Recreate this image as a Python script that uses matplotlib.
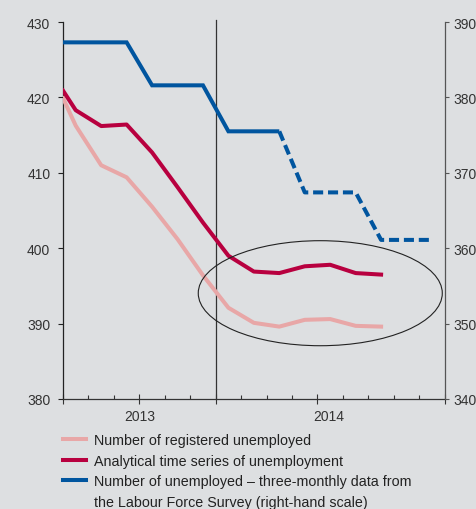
import matplotlib
matplotlib.use("Agg")
import matplotlib.pyplot as plt
from matplotlib.lines import Line2D
from matplotlib.patches import Ellipse
from matplotlib.ticker import FixedLocator, NullFormatter
import matplotlib.transforms as mtransforms

plt.rcParams['font.family'] = ['Liberation Sans', 'DejaVu Sans']

# Month axis: 0 = start of July 2013, 15 = end of September 2014
months = list(range(16))
year_labels = ["2013", "2014"]
year_label_pos = [3, 10.45]
year_ticks = [0, 3, 6, 10, 15]
year_break = 6

# Monthly observations sit mid-month; the first value is the left edge of the axis
monthly_x = [0] + [i + 0.5 for i in range(13)]
registered = [419.9, 416.25, 411.0, 409.4, 405.5, 401.2, 396.4, 392.1,
              390.1, 389.6, 390.5, 390.6, 389.7, 389.6]
analytical = [420.9, 418.3, 416.2, 416.4, 412.7, 408.1, 403.4, 399.0,
              396.9, 396.7, 397.6, 397.8, 396.7, 396.5]

# Labour Force Survey, thousands (right-hand scale)
lfs_x = [0] + [i + 0.5 for i in range(15)]
lfs = [387.3, 387.3, 387.3, 387.3, 381.6, 381.6, 381.6, 375.5, 375.5, 375.5,
       367.4, 367.4, 367.4, 361.1, 361.1, 361.1]
lfs_solid_n = 10   # points published as final; the rest dashed

left_ticks = [380, 390, 400, 410, 420, 430]
right_ticks = [340, 350, 360, 370, 380, 390]

labels = ["Number of registered unemployed",
          "Analytical time series of unemployment",
          "Number of unemployed \u2013 three-monthly data from",
          "the Labour Force Survey (right-hand scale)"]

bg = "#dddfe1"
c_pink = "#e8a7a7"
c_red = "#b8003f"
c_blue = "#00559f"
txt = "#333333"

fig = plt.figure(figsize=(4.77, 5.10), dpi=100, facecolor=bg)
ax = fig.add_axes([0.1321, 0.2157, 0.8002, 0.7392])
ax.set_facecolor(bg)
ax2 = ax.twinx()

ax.set_xlim(0, 15)
ax.set_ylim(380, 430)
ax2.set_ylim(340, 390)

lw = 2.9
ax.plot(monthly_x, registered, color=c_pink, lw=lw, solid_joinstyle='round', zorder=3)
ax.plot(monthly_x, analytical, color=c_red, lw=lw, solid_joinstyle='round', zorder=4)
ax2.plot(lfs_x[:lfs_solid_n], lfs[:lfs_solid_n], color=c_blue, lw=lw,
         solid_joinstyle='miter', solid_capstyle='butt', zorder=3)
ax2.plot(lfs_x[lfs_solid_n - 1:], lfs[lfs_solid_n - 1:], color=c_blue, lw=lw,
         linestyle=(0, (2.5, 1.2)), dash_capstyle='butt', zorder=3)

# Year separator
ax.axvline(year_break, ymin=0, ymax=1.006, color="#333333", lw=0.9, clip_on=False, zorder=2)

# Highlight of the recent flattening
ax.add_patch(Ellipse((10.11, 394.03), 9.59, 13.93, fill=False,
                     edgecolor="#222222", lw=0.8, zorder=5))

for a in (ax, ax2):
    a.spines['top'].set_visible(False)
ax.spines['left'].set_color("#222222")
ax.spines['left'].set_linewidth(0.9)
ax.spines['bottom'].set_color("#333333")
ax.spines['bottom'].set_linewidth(0.9)
ax2.spines['right'].set_color("#555555")
ax2.spines['right'].set_linewidth(0.9)
for s in ('left', 'bottom'):
    ax2.spines[s].set_visible(False)
ax.spines['right'].set_visible(False)

ax.set_yticks(left_ticks)
ax.tick_params(axis='y', direction='out', length=3.6, width=0.8, color="#222222",
               pad=5.5, labelsize=10, labelcolor=txt)
ax2.set_yticks(right_ticks)
ax2.tick_params(axis='y', direction='out', length=3.2, width=0.8, color="#555555",
                pad=3.0, labelsize=10, labelcolor=txt)

ax.xaxis.set_major_locator(FixedLocator(year_ticks))
ax.xaxis.set_minor_locator(FixedLocator(months))
ax.xaxis.set_major_formatter(NullFormatter())
ax.tick_params(axis='x', which='major', direction='inout', length=6.5, width=0.8, color="#333333")
ax.tick_params(axis='x', which='minor', direction='in', length=3.0, width=0.8, color="#333333")

trans = mtransforms.blended_transform_factory(ax.transData, fig.transFigure)
for lab, xp in zip(year_labels, year_label_pos):
    ax.text(xp, 1 - 417 / 510, lab, transform=trans, ha='center', va='center',
            fontsize=10, color=txt)

handles = [Line2D([], [], color=c_pink, lw=lw),
           Line2D([], [], color=c_red, lw=lw),
           Line2D([], [], color=c_blue, lw=lw),
           Line2D([], [], color='none', lw=lw)]
ax.legend(handles, labels, loc='upper left', bbox_to_anchor=(63 / 477, 1 - 434 / 510),
          bbox_transform=fig.transFigure, frameon=False, fontsize=10.3,
          handlelength=1.6, handletextpad=0.56, labelspacing=0.46,
          borderpad=0, borderaxespad=0, labelcolor="#222222")

fig.savefig("out.png", dpi=100, facecolor=bg)
